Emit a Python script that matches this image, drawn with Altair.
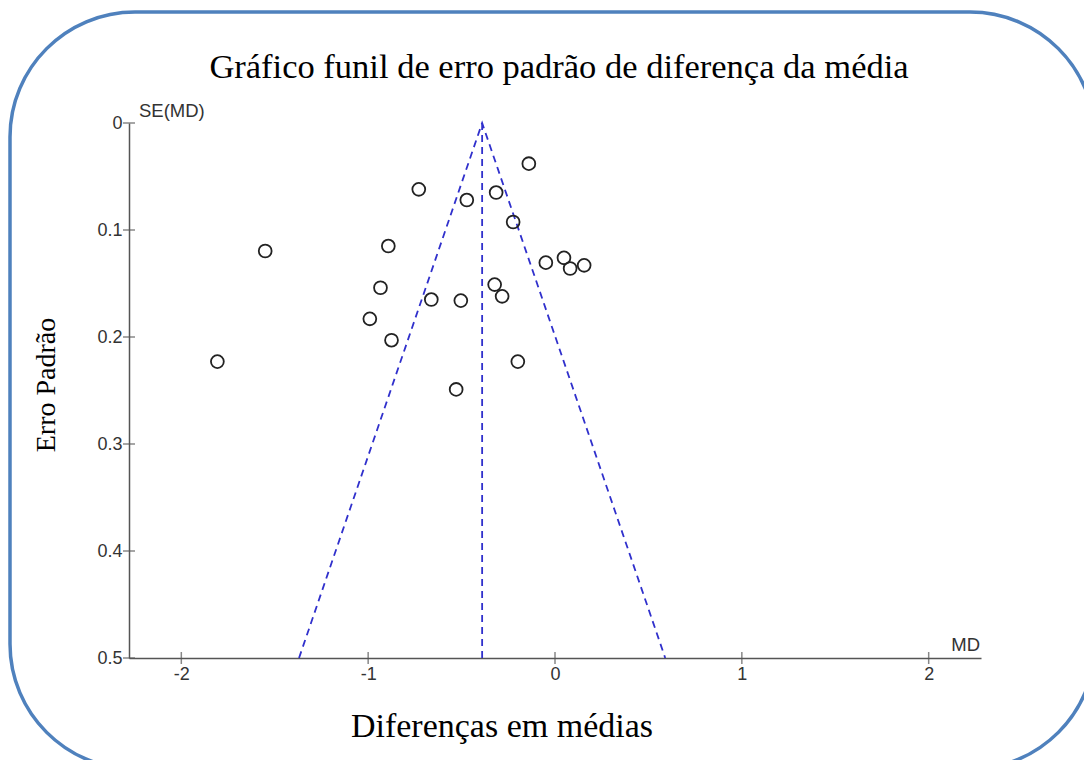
import altair as alt
import pandas as pd

# Study points (mean difference, standard error)
md = [-0.140, -0.729, -0.472, -0.315, -0.224, -0.049, 0.048, 0.081, 0.156,
      -0.323, -0.283, -1.551, -0.892, -0.934, -0.991, -0.875, -1.807,
      -0.662, -0.504, -0.199, -0.529]
se = [0.038, 0.062, 0.072, 0.065, 0.0925, 0.1305, 0.126, 0.136, 0.133,
      0.151, 0.162, 0.1196, 0.115, 0.154, 0.183, 0.203, 0.223,
      0.165, 0.166, 0.223, 0.249]

# Funnel (pseudo 95% limits) and pooled estimate
funnel_md = [-1.37, -0.39, 0.59]
funnel_se = [0.5, 0.0, 0.5]
pooled_md = [-0.39, -0.39]
pooled_se = [0.0, 0.5]

x_ticks = [-2, -1, 0, 1, 2]
y_ticks = [0, 0.1, 0.2, 0.3, 0.4, 0.5]
x_domain = [-2.28, 2.28]
y_domain = [0, 0.5]

title_text = "Gráfico funil de erro padrão de diferença da média"
ytitle_text = "Erro Padrão"
xtitle_text = "Diferenças em médias"

pts = pd.DataFrame({"md": md, "se": se})
fun = pd.DataFrame({"md": funnel_md, "se": funnel_se, "o": [0, 1, 2]})
pool = pd.DataFrame({"md": pooled_md, "se": pooled_se})
xt = pd.DataFrame({"md": x_ticks, "se": [0.5] * len(x_ticks)})
yt = pd.DataFrame({"md": [x_domain[0]] * len(y_ticks), "se": y_ticks})

W, H = 852, 535
xs = alt.Scale(domain=x_domain, nice=False, zero=False)
ys = alt.Scale(domain=y_domain, reverse=True, nice=False, zero=False)

AX = "#555555"
LBL = "#333333"

x_axis = alt.Axis(values=x_ticks, ticks=False, grid=False, domainColor=AX,
                  domainWidth=1.5, labelFont="Liberation Sans", labelFontSize=18,
                  labelColor=LBL, labelPadding=7, title=None, labelExpr="datum.value")
y_axis = alt.Axis(values=y_ticks, ticks=False, grid=False, domainColor=AX,
                  domainWidth=1.5, labelFont="Liberation Sans", labelFontSize=18,
                  labelColor=LBL, labelPadding=7, title=None,
                  labelExpr="datum.value == 0 ? '0' : format(datum.value, '.1f')")

base_pts = alt.Chart(pts).mark_point(
    shape="circle", size=165, filled=False, color="#222222", strokeWidth=1.8, opacity=1
).encode(
    x=alt.X("md:Q", scale=xs, axis=x_axis),
    y=alt.Y("se:Q", scale=ys, axis=y_axis),
)

funnel = alt.Chart(fun).mark_line(
    color="#3030CC", strokeWidth=1.8, strokeDash=[7, 5]
).encode(x=alt.X("md:Q", scale=xs), y=alt.Y("se:Q", scale=ys), order="o:Q")

pooled = alt.Chart(pool).mark_line(
    color="#3030CC", strokeWidth=1.8, strokeDash=[7, 5]
).encode(x=alt.X("md:Q", scale=xs), y=alt.Y("se:Q", scale=ys))

xticks = alt.Chart(xt).mark_tick(orient="vertical", size=12, thickness=1.5, color=AX).encode(
    x=alt.X("md:Q", scale=xs), y=alt.Y("se:Q", scale=ys))
yticks = alt.Chart(yt).mark_tick(orient="horizontal", size=12, thickness=1.5, color=AX).encode(
    x=alt.X("md:Q", scale=xs), y=alt.Y("se:Q", scale=ys))

one = alt.Data(values=[{"a": 1}])

def label(text, x, y, **kw):
    return alt.Chart(one).mark_text(text=text, **kw).encode(
        x=alt.value(x), y=alt.value(y))

t_title = label(title_text, 430, -55, font="Liberation Serif", fontSize=34.5,
                color="#000000", align="center", baseline="middle")
t_ytitle = label(ytitle_text, -82, 262, font="Liberation Serif", fontSize=28,
                 color="#000000", align="center", baseline="middle", angle=270)
t_xtitle = label(xtitle_text, 373, 604, font="Liberation Serif", fontSize=34,
                 color="#000000", align="center", baseline="middle")
t_se = label("SE(MD)", 10, -12, font="Liberation Sans", fontSize=18.5,
             color=LBL, align="left", baseline="middle")
t_md = label("MD", 851, 522, font="Liberation Sans", fontSize=18.5,
             color=LBL, align="right", baseline="middle")

border = alt.Chart(one).mark_rect(
    fill="transparent", stroke="#4F81BD", strokeWidth=3.5, cornerRadius=125
).encode(x=alt.value(-119), x2=alt.value(966), y=alt.value(-111), y2=alt.value(646))

chart = alt.layer(
    border, funnel, pooled, xticks, yticks, base_pts,
    t_title, t_ytitle, t_xtitle, t_se, t_md
).properties(
    width=W, height=H,
    padding={"left": 121, "top": 115, "right": 103, "bottom": 102},
    autosize=alt.AutoSizeParams(type="none"),
    background="white",
).configure_view(stroke="transparent", strokeWidth=0)

chart.save("out.html", embed_options={"renderer": "svg", "actions": False})
